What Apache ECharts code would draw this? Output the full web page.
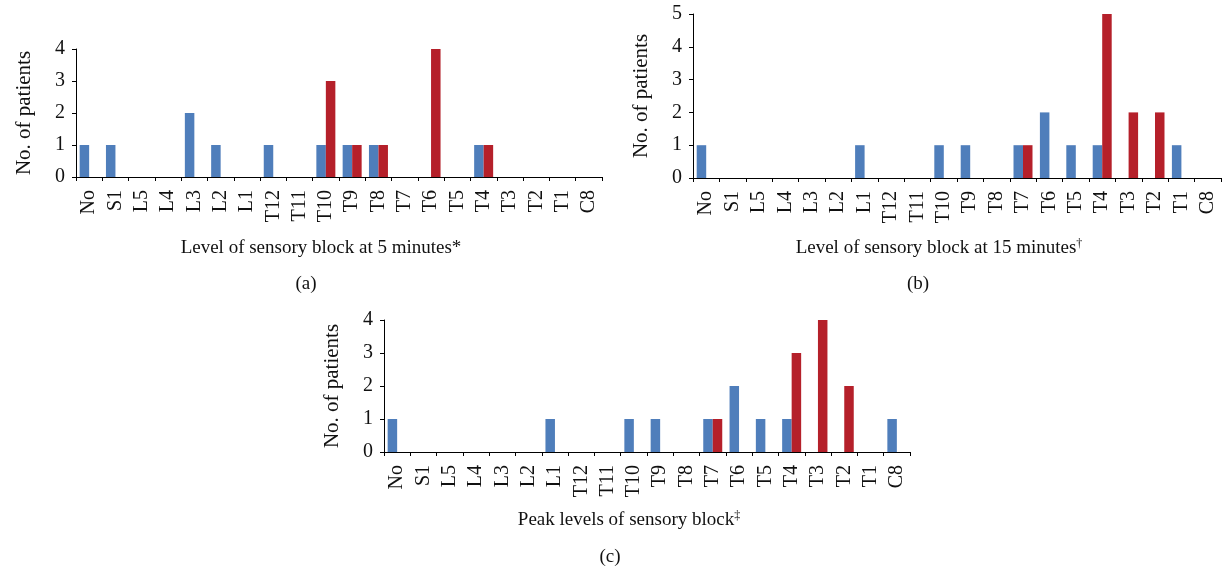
<!DOCTYPE html>
<html>
<head>
<meta charset="utf-8">
<script src="https://cdn.jsdelivr.net/npm/echarts@6/dist/echarts.min.js"></script>
<style>
html,body{margin:0;padding:0;background:#fff;}
#main{width:1222px;height:571px;}
</style>
</head>
<body>
<div id="main"></div>
<script>
var categories = ['No','S1','L5','L4','L3','L2','L1','T12','T11','T10','T9','T8','T7','T6','T5','T4','T3','T2','T1','C8'];
var blueA = [1,1,0,0,2,1,0,1,0,1,1,1,0,0,0,1,0,0,0,0];
var redA  = [0,0,0,0,0,0,0,0,0,3,1,1,0,4,0,1,0,0,0,0];
var blueB = [1,0,0,0,0,0,1,0,0,1,1,0,1,2,1,1,0,0,1,0];
var redB  = [0,0,0,0,0,0,0,0,0,0,0,0,1,0,0,5,2,2,0,0];
var blueC = [1,0,0,0,0,0,1,0,0,1,1,0,1,2,1,1,0,0,0,1];
var redC  = [0,0,0,0,0,0,0,0,0,0,0,0,1,0,0,3,4,2,0,0];
var yMaxA = 4, yMaxB = 5, yMaxC = 4;
var yTitle = 'No. of patients';
var xTitleA = 'Level of sensory block at 5 minutes*';
var xTitleB = 'Level of sensory block at 15 minutes';
var xTitleC = 'Peak levels of sensory block';
var panelLabels = ['(a)','(b)','(c)'];

var FONT = '"Liberation Serif", "Times New Roman", serif';
var BLUE = '#4F7EBB', RED = '#B5202A';
var FS = 19;

function xAxis(idx){
  return {
    type:'category', gridIndex:idx, data:categories,
    axisLine:{lineStyle:{color:'#000',width:1}},
    axisTick:{show:true,alignWithLabel:false,length:4,inside:false,lineStyle:{color:'#000'}},
    axisLabel:{rotate:90,interval:0,margin:13,color:'#111',fontFamily:FONT,fontSize:20}
  };
}
function yAxis(idx,max){
  return {
    type:'value', gridIndex:idx, min:0, max:max, interval:1,
    name:yTitle, nameLocation:'middle', nameGap:41,
    nameTextStyle:{fontFamily:FONT,fontSize:21,color:'#111'},
    axisLine:{show:true,lineStyle:{color:'#000',width:1}},
    axisTick:{show:true,length:4,lineStyle:{color:'#000'}},
    splitLine:{show:false},
    axisLabel:{margin:11,color:'#111',fontFamily:FONT,fontSize:20}
  };
}
function bars(idx,data,color){
  return {type:'bar',xAxisIndex:idx,yAxisIndex:idx,data:data,barWidth:9.5,barGap:'0%',
    itemStyle:{color:color},silent:true,animation:false};
}

var chart = echarts.init(document.getElementById('main'),null,{renderer:'canvas'});
chart.setOption({
  animation:false,
  backgroundColor:'#fff',
  grid:[
    {left:76,right:620,top:49,bottom:394},
    {left:693,right:1,top:14,bottom:393},
    {left:384,right:312,top:320,bottom:119}
  ],
  xAxis:[xAxis(0),xAxis(1),xAxis(2)],
  yAxis:[yAxis(0,yMaxA),yAxis(1,yMaxB),yAxis(2,yMaxC)],
  series:[
    bars(0,blueA,BLUE),bars(0,redA,RED),
    bars(1,blueB,BLUE),bars(1,redB,RED),
    bars(2,blueC,BLUE),bars(2,redC,RED)
  ],
  graphic:[
    {type:'text',x:321,y:248,style:{text:xTitleA,font:FS+'px '+FONT,fill:'#111',textAlign:'center',textVerticalAlign:'middle'}},
    {type:'text',x:306,y:284,style:{text:panelLabels[0],font:FS+'px '+FONT,fill:'#111',textAlign:'center',textVerticalAlign:'middle'}},
    {type:'text',x:939,y:248,style:{text:xTitleB+'{s|†}',font:FS+'px '+FONT,fill:'#111',textAlign:'center',textVerticalAlign:'middle',
      rich:{s:{fontSize:12,fontFamily:FONT,verticalAlign:'top',fill:'#111',padding:[0,0,8,0]}}}},
    {type:'text',x:918,y:284,style:{text:panelLabels[1],font:FS+'px '+FONT,fill:'#111',textAlign:'center',textVerticalAlign:'middle'}},
    {type:'text',x:629,y:520,style:{text:xTitleC+'{s|‡}',font:FS+'px '+FONT,fill:'#111',textAlign:'center',textVerticalAlign:'middle',
      rich:{s:{fontSize:12,fontFamily:FONT,verticalAlign:'top',fill:'#111',padding:[0,0,8,0]}}}},
    {type:'text',x:610,y:557,style:{text:panelLabels[2],font:FS+'px '+FONT,fill:'#111',textAlign:'center',textVerticalAlign:'middle'}}
  ]
});
</script>
</body>
</html>
